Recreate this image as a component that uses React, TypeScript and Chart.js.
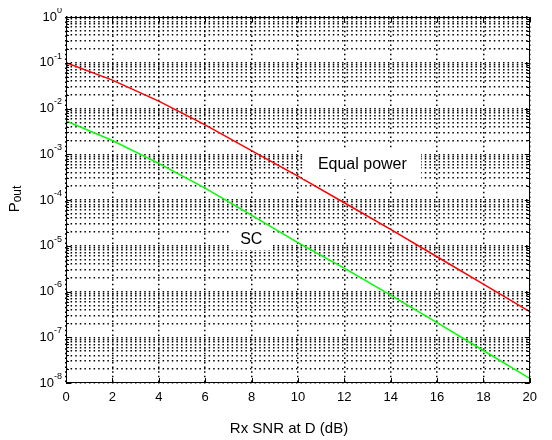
import { useEffect, useRef } from 'react';
import { Chart, registerables } from 'chart.js';

Chart.register(...registerables);

// ---- data ----
const snrDb = [0, 2, 4, 6, 8, 10, 12, 14, 16, 18, 20];
const equalPower = [1.0e-1, 4.17e-2, 1.45e-2, 4.37e-3, 1.2e-3, 3.31e-4, 8.71e-5, 2.29e-5, 5.75e-6, 1.45e-6, 3.63e-7];
const scValues = [5.37e-3, 2.0e-3, 6.31e-4, 1.82e-4, 4.68e-5, 1.17e-5, 3.24e-6, 8.32e-7, 2.09e-7, 5.13e-8, 1.26e-8];
const xTickStep = 2;
const yDecades = [-8, -7, -6, -5, -4, -3, -2, -1, 0];
const annotationTexts = ['Equal power', 'SC'];
const annotationX = [12.78, 7.99];
const annotationY = [6.2e-4, 1.45e-5];
const annotationBoxW = [118, 40];
const annotationBoxH = [31, 23];

const FONT = '"Liberation Sans", Arial, Helvetica, sans-serif';

const W = 536;
const H = 432;
const PLOT_LEFT = 58;
const PLOT_RIGHT = 522;
const PLOT_TOP = 9;
const PLOT_BOTTOM = 375;
const GRID_DASH = [1.5, 3.1];
const GRID_WIDTH = 1.5;

const customPlugin = {
  id: 'customDecor',
  afterDatasetsDraw(chart: any) {
    const ctx = chart.ctx;
    const xs = chart.scales.x;
    const ys = chart.scales.y;
    ctx.save();
    ctx.font = `16px ${FONT}`;
    annotationTexts.forEach((t, i) => {
      const cx = xs.getPixelForValue(annotationX[i]);
      const cy = ys.getPixelForValue(annotationY[i]);
      const bw = annotationBoxW[i];
      const bh = annotationBoxH[i];
      ctx.fillStyle = '#ffffff';
      ctx.fillRect(Math.round(cx - bw / 2), Math.round(cy - bh / 2), bw, bh);
      ctx.fillStyle = '#000000';
      ctx.textAlign = 'center';
      ctx.textBaseline = 'middle';
      ctx.fillText(t, cx, cy + 1);
    });
    ctx.restore();
  },
  afterDraw(chart: any) {
    const ctx = chart.ctx;
    const { left, right, top, bottom } = chart.chartArea;
    const xs = chart.scales.x;
    const ys = chart.scales.y;
    ctx.save();
    // frame
    ctx.strokeStyle = '#000';
    ctx.lineWidth = 1;
    ctx.setLineDash([]);
    ctx.strokeRect(Math.round(left) + 0.5, Math.round(top) + 0.5, Math.round(right - left) - 1, Math.round(bottom - top) - 1);
    // y ticks inward
    ctx.beginPath();
    ys.ticks.forEach((tk: any) => {
      const y = Math.round(ys.getPixelForValue(tk.value)) + 0.5;
      const major = Math.abs(Math.log10(tk.value) - Math.round(Math.log10(tk.value))) < 1e-9;
      const len = major ? 5 : 3;
      ctx.moveTo(left, y);
      ctx.lineTo(left + len, y);
      ctx.moveTo(right, y);
      ctx.lineTo(right - len, y);
    });
    // x ticks inward
    xs.ticks.forEach((tk: any) => {
      const x = Math.round(xs.getPixelForValue(tk.value)) + 0.5;
      ctx.moveTo(x, bottom);
      ctx.lineTo(x, bottom - 5);
      ctx.moveTo(x, top);
      ctx.lineTo(x, top + 5);
    });
    ctx.stroke();

    // y labels with superscripts
    ctx.fillStyle = '#000';
    yDecades.forEach((e) => {
      const y = ys.getPixelForValue(Math.pow(10, e));
      const sup = e === 0 ? '0' : '-' + String(Math.abs(e));
      ctx.font = `9px ${FONT}`;
      const sw = ctx.measureText(sup).width;
      ctx.font = `13px ${FONT}`;
      const bw = ctx.measureText('10').width;
      const xr = left - 4;
      ctx.textAlign = 'left';
      ctx.textBaseline = 'middle';
      ctx.fillText('10', xr - sw - bw, y);
      ctx.font = `9px ${FONT}`;
      ctx.fillText(sup, xr - sw, y - 6.5);
    });

    // x title
    ctx.font = `15px ${FONT}`;
    ctx.textAlign = 'center';
    ctx.textBaseline = 'middle';
    ctx.fillText('Rx SNR at D (dB)', 281, 421);

    // y title P_out
    ctx.translate(11, 191);
    ctx.rotate(-Math.PI / 2);
    ctx.font = `15px ${FONT}`;
    const pw = ctx.measureText('P').width;
    ctx.font = `12px ${FONT}`;
    const ow = ctx.measureText('out').width;
    const total = pw + ow;
    ctx.textAlign = 'left';
    ctx.textBaseline = 'alphabetic';
    ctx.font = `15px ${FONT}`;
    ctx.fillText('P', -total / 2, 0);
    ctx.font = `12px ${FONT}`;
    ctx.fillText('out', -total / 2 + pw, 2);
    ctx.restore();
  },
};

export default function App() {
  const canvasRef = useRef<HTMLCanvasElement | null>(null);

  useEffect(() => {
    const canvas = canvasRef.current;
    if (!canvas) return;
    const chart = new Chart(canvas, {
      type: 'line',
      data: {
        labels: snrDb,
        datasets: [
          {
            label: 'Equal power',
            data: snrDb.map((x, i) => ({ x, y: equalPower[i] })),
            borderColor: '#ff0000',
            borderWidth: 1.5,
            pointRadius: 0,
            tension: 0,
            fill: false,
          },
          {
            label: 'SC',
            data: snrDb.map((x, i) => ({ x, y: scValues[i] })),
            borderColor: '#00ff00',
            borderWidth: 1.5,
            pointRadius: 0,
            tension: 0,
            fill: false,
          },
        ],
      },
      options: {
        animation: false,
        responsive: false,
        events: [],
        layout: { padding: { left: 0, right: W - PLOT_RIGHT, top: PLOT_TOP, bottom: 0 } },
        plugins: { legend: { display: false }, tooltip: { enabled: false } },
        scales: {
          x: {
            type: 'linear',
            min: 0,
            max: 20,
            ticks: {
              stepSize: xTickStep,
              color: '#000',
              font: { family: FONT, size: 13 },
              padding: 7,
              maxRotation: 0,
              autoSkip: false,
            },
            grid: { color: '#000', lineWidth: GRID_WIDTH, drawTicks: false },
            border: { display: false, dash: GRID_DASH },
            afterFit: (scale: any) => {
              scale.height = H - PLOT_BOTTOM;
            },
          },
          y: {
            type: 'logarithmic',
            min: 1e-8,
            max: 1,
            ticks: { display: false },
            grid: { color: '#000', lineWidth: GRID_WIDTH, drawTicks: false },
            border: { display: false, dash: GRID_DASH },
            afterBuildTicks: (scale: any) => {
              const ticks: any[] = [];
              for (let e = -8; e < 0; e++) {
                for (let s = 1; s <= 9; s++) {
                  ticks.push({ value: s * Math.pow(10, e) });
                }
              }
              ticks.push({ value: 1 });
              scale.ticks = ticks;
            },
            afterFit: (scale: any) => {
              scale.width = PLOT_LEFT;
            },
          },
        },
      },
      plugins: [customPlugin],
    });
    return () => chart.destroy();
  }, []);

  return (
    <div style={{ width: W, height: H }}>
      <canvas ref={canvasRef} width={W} height={H} style={{ display: 'block' }} />
    </div>
  );
}
